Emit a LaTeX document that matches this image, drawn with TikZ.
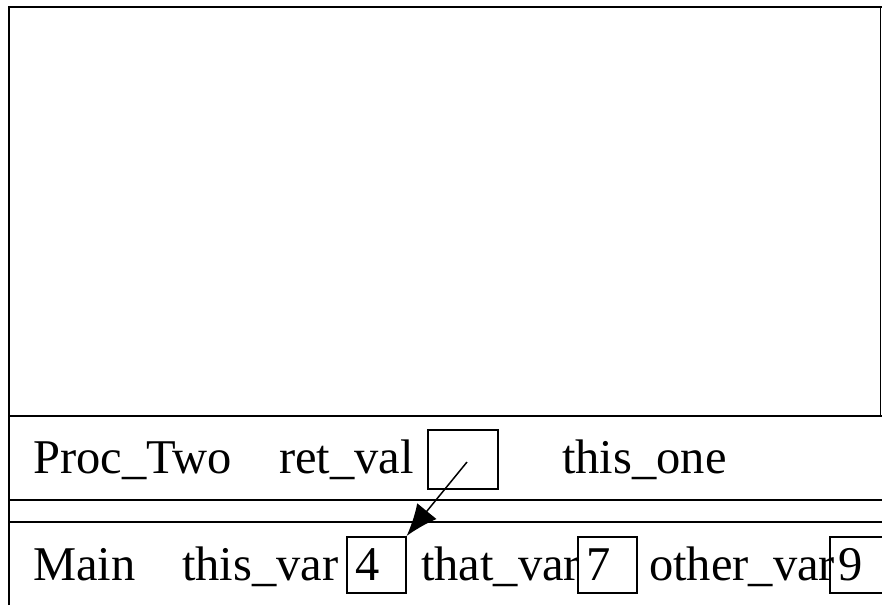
\documentclass[tikz,border=0pt]{standalone}
\usepackage{fontspec}
\setmainfont{Liberation Serif}
\usetikzlibrary{arrows.meta}
\begin{document}
\begin{tikzpicture}[x=1pt,y=-1pt,
  frame/.style={line width=1.8pt},
  lbl/.style={anchor=base west, inner sep=0pt, font=\fontsize{48.5}{50}\selectfont},
  valbox/.style={draw, line width=1.6pt, anchor=north west, minimum height=56pt,
    inner xsep=9pt, inner ysep=0pt, text width=41pt, align=left,
    font=\fontsize{48.5}{50}\selectfont},
  emptybox/.style={draw, line width=1.6pt, anchor=north west, minimum width=70pt,
    minimum height=59pt, inner sep=0pt},
  ptr/.style={line width=1.5pt, -{Latex[length=32pt,width=25pt]}}]
\useasboundingbox (0,0) rectangle (882,605);
% frames
\coordinate (tl) at (9,7);
\draw[frame] (9,605) -- (tl) -- (882,7);
\draw[frame] (880.5,7) -- (880.5,416);
\draw[frame] (9,416) -- (882,416);
\draw[frame] (9,500) -- (882,500);
\draw[frame] (9,522) -- (882,522);
% Proc_Two row
\node[lbl] (proc) at (33,473) {Proc\_Two};
\node[lbl] (retval) at (279,473) {ret\_val};
\node[emptybox] (rbox) at (427,429) {};
\node[lbl] (thisone) at (562,473) {this\_one};
% Main row
\node[lbl] (main) at (33,580) {Main};
\node[lbl] (thisvar) at (182,580) {this\_var};
\node[valbox] (b4) at (346,536) {4};
\node[lbl] (thatvar) at (421,580) {that\_var};
\node[valbox] (b7) at (577,536) {7};
\node[lbl] (othervar) at (649,580) {other\_var};
\node[valbox] (b9) at (829,536) {9};
% pointer
\coordinate (src) at (467,462);
\draw[ptr] (src) -- (b4.north east);
\end{tikzpicture}
\end{document}
